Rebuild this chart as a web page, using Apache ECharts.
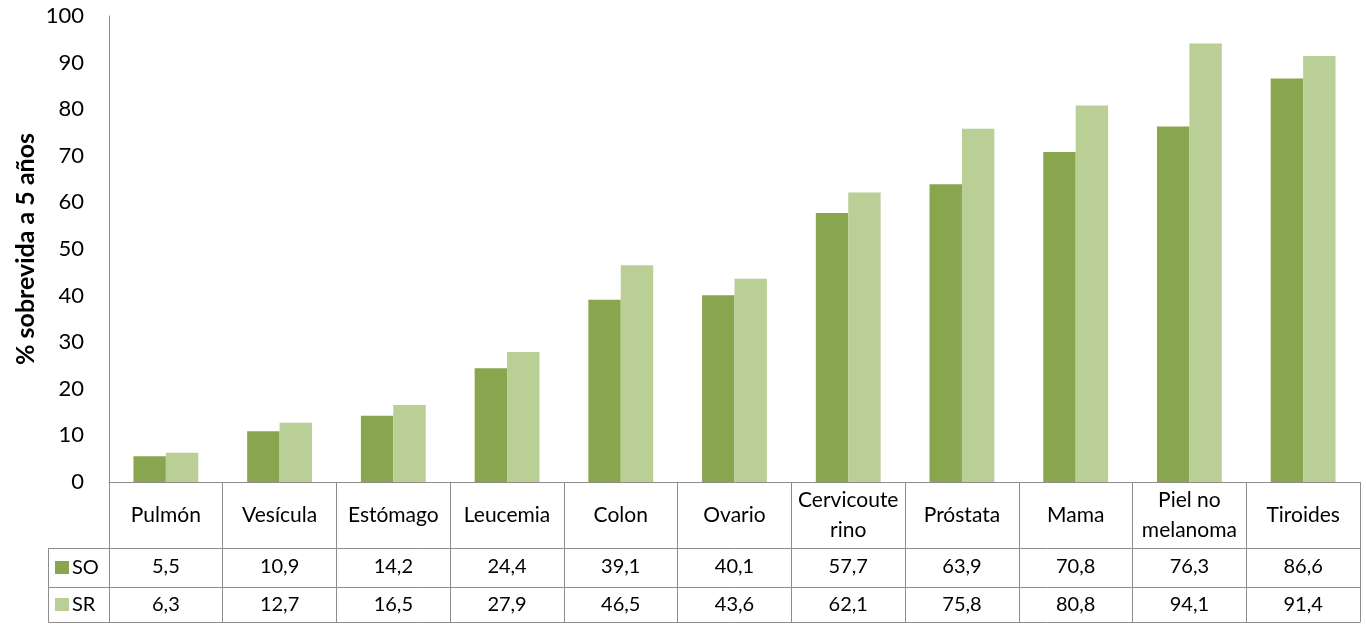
<!DOCTYPE html>
<html>
<head>
<meta charset="utf-8">
<script src="https://cdn.jsdelivr.net/npm/echarts@6/dist/echarts.min.js"></script>
<style>html,body{margin:0;padding:0;background:#fff;}#c{width:1366px;height:624px;}</style>
</head>
<body>
<div id="c"></div>
<script>
const categories = ['Pulmón','Vesícula','Estómago','Leucemia','Colon','Ovario','Cervicoute\nrino','Próstata','Mama','Piel no\nmelanoma','Tiroides'];
const soValues = [5.5,10.9,14.2,24.4,39.1,40.1,57.7,63.9,70.8,76.3,86.6];
const srValues = [6.3,12.7,16.5,27.9,46.5,43.6,62.1,75.8,80.8,94.1,91.4];
const yTicks = {min:0, max:100, interval:10};
const seriesNames = ['SO','SR'];

const FONT = 'Lato, "Open Sans", sans-serif';
const LINE = '#8c8c8c';
const C_SO = '#89A54E';
const C_SR = '#BACF96';
const fmt = v => v.toFixed(1).replace('.', ',');

const chart = echarts.init(document.getElementById('c'));
const gl = 109, gr = 6, gt = 16, gb = 142;
const axisY = 624 - gb;
const row1 = axisY + 66, row2 = axisY + 105, row3 = axisY + 140;
const legLeft = 48;

const valueAxisBase = {
  type: 'category', data: categories, position: 'bottom',
  axisLine: {show: true, lineStyle: {color: LINE, width: 1}},
  axisTick: {show: false},
  splitLine: {show: false}
};

const legendBase = {
  orient: 'vertical', left: 50, icon: 'rect', itemWidth: 14, itemHeight: 13, itemGap: 0,
  textStyle: {fontFamily: FONT, fontSize: 20, color: '#000', padding: [0,0,0,-2]}
};

chart.setOption({
  animation: false,
  textStyle: {fontFamily: FONT},
  grid: {left: gl, right: gr, top: gt, bottom: gb, containLabel: false},
  legend: [
    Object.assign({}, legendBase, {data: [seriesNames[0]], top: (row1 + row2)/2 - 15}),
    Object.assign({}, legendBase, {data: [seriesNames[1]], top: (row2 + row3)/2 - 15})
  ],
  xAxis: [
    Object.assign({}, valueAxisBase, {
      axisTick: {show: true, interval: 0, length: 140, lineStyle: {color: LINE}},
      axisLabel: {interval: 0, margin: 33, verticalAlign: 'middle', fontFamily: FONT, fontSize: 21, color: '#000', lineHeight: 30, align: 'center'}
    }),
    Object.assign({}, valueAxisBase, {
      offset: 66,
      axisLabel: {interval: 0, margin: 19, verticalAlign: 'middle', fontFamily: FONT, fontSize: 20, color: '#000',
        formatter: (v, i) => fmt(soValues[i])}
    }),
    Object.assign({}, valueAxisBase, {
      offset: 105,
      axisLabel: {interval: 0, margin: 18, verticalAlign: 'middle', fontFamily: FONT, fontSize: 20, color: '#000',
        formatter: (v, i) => fmt(srValues[i])}
    }),
    Object.assign({}, valueAxisBase, {
      offset: 140,
      axisLabel: {show: false}
    })
  ],
  yAxis: {
    type: 'value', min: yTicks.min, max: yTicks.max, interval: yTicks.interval,
    name: '% sobrevida a 5 años', nameLocation: 'middle', nameRotate: 90, nameGap: 71,
    nameMoveOverlap: false,
    nameTextStyle: {fontFamily: FONT, fontSize: 25, fontWeight: 'bold', color: '#000'},
    axisLine: {show: true, lineStyle: {color: LINE, width: 1}},
    axisTick: {show: false},
    splitLine: {show: false},
    axisLabel: {fontFamily: FONT, fontSize: 22, color: '#000', margin: 25}
  },
  series: [
    {name: seriesNames[0], type: 'bar', data: soValues, barGap: '0%', barCategoryGap: '43%',
     itemStyle: {color: C_SO}},
    {name: seriesNames[1], type: 'bar', data: srValues, barGap: '0%', barCategoryGap: '43%',
     itemStyle: {color: C_SR}}
  ],
  graphic: [
    {type: 'polyline', silent: true, shape: {points: [[gl, row1+0.5],[legLeft+0.5, row1+0.5],[legLeft+0.5, row3+0.5],[gl, row3+0.5]]},
     style: {stroke: LINE, lineWidth: 1, fill: null}},
    {type: 'line', silent: true, shape: {x1: legLeft, y1: row2+0.5, x2: gl, y2: row2+0.5},
     style: {stroke: LINE, lineWidth: 1}}
  ]
});
</script>
</body>
</html>
